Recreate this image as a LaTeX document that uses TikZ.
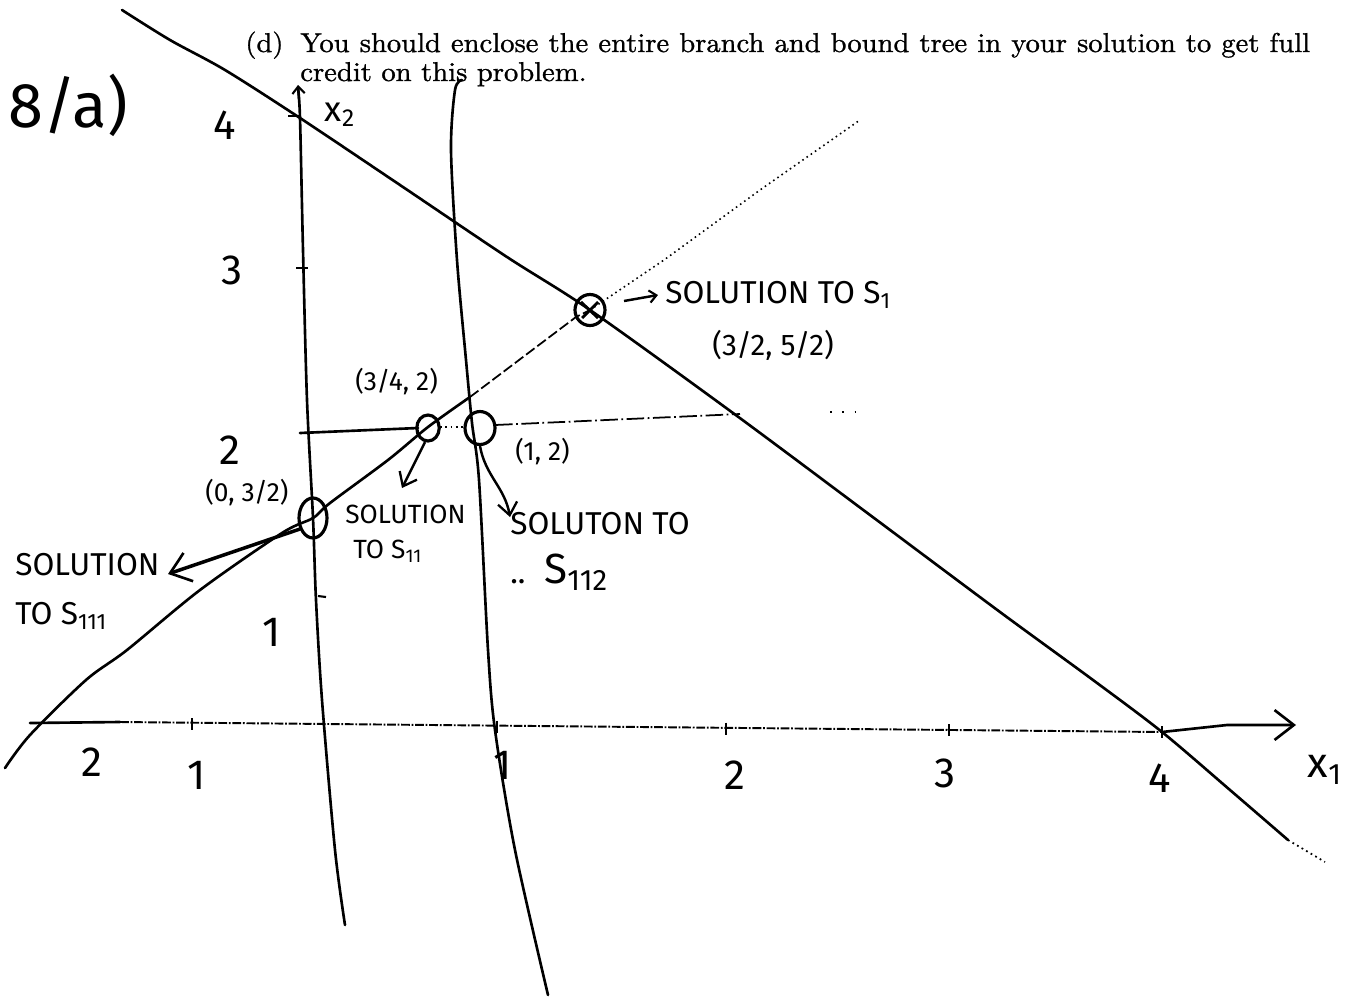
\documentclass[tikz,border=0pt]{standalone}
\usepackage{fontspec}
\newfontfamily\hand{Fira Sans}
\newfontfamily\printfont{lmroman10-regular}[Extension=.otf, FakeStretch=1.05, FakeBold=1]
\usetikzlibrary{arrows.meta,shapes.geometric}
\tikzset{
  stroke/.style={line width=1.5pt, line cap=round, line join=round},
  hw/.style={font=\hand\fontsize{15}{18}\selectfont, inner sep=0pt, anchor=west},
  sol/.style={font=\hand\fontsize{18}{20}\selectfont, inner sep=0pt, align=left, anchor=north west},
  num/.style={font=\hand\fontsize{24}{26}\selectfont, inner sep=0pt},
  bigbarb/.style={-{Straight Barb[length=11pt,width=17pt,line width=1.5pt]}},
  barb/.style={-{Straight Barb[length=7pt,width=11pt,line width=1.3pt]}},
  smallbarb/.style={-{Straight Barb[length=4pt,width=7pt,line width=1.2pt]}},
  ring/.style={draw, line width=1.8pt, ellipse, inner sep=0pt},
  printed/.style={inner sep=0pt, anchor=base west, font=\printfont\fontsize{15.5}{16.5}\selectfont},
}
\begin{document}
\begin{tikzpicture}[x=0.02cm,y=-0.02cm]
\useasboundingbox (0,0) rectangle (1355,1001);

% printed problem text
\node[printed] (dlab) at (245,52) {(d)};
\node[printed] (dline1) at (300,52)
  {\makebox[20.2cm][s]{You should enclose the entire branch and bound tree in your solution to get full}};
\node[printed] (dline2) at (300,81) {credit on this problem.};

% line A : decreasing constraint
\draw[stroke] plot[smooth, tension=0.5] coordinates {(122,10) (170,40) (225,70) (300,118) (400,185) (507,257) (590,310) (733,413) (870,515) (1000,612) (1093,680) (1162,732) (1230,790) (1288,840)};
\draw[line width=1pt, dotted] (1288,840) -- (1325,862);

% line B : increasing constraint
\draw[stroke] plot[smooth, tension=0.5] coordinates {(5,768) (30,735) (86,680) (127,650) (200,590) (282,533) (313,518) (330,503) (388,460) (428,427) (470,397)};
\draw[line width=1pt, dash pattern=on 6pt off 2pt] (470,397) -- (576,317) -- (590,310);
\draw[line width=0.9pt, dotted] (590,310) -- (664,260) -- (760,190) -- (860,120);

% x2 axis (left branching line)
\coordinate (x2top) at (298,85);
\draw[stroke] plot[smooth, tension=0.5] coordinates {(345,925) (335,850) (322,700) (316,600) (313,518) (307,400) (303,250) (300,118) (298,88)};
\draw[smallbarb, line width=1.3pt] (299,100) -- (x2top);
\draw[line width=1.2pt] (288,116) -- (300,116);
\draw[line width=1.2pt] (296,268) -- (308,268);
\draw[line width=1.2pt] (318,596) -- (326,597);

% right branching line (x1 = 1)
\draw[stroke] plot[smooth, tension=0.5] coordinates {(462,80) (455,90) (451,150) (457,260) (466,360) (472,423) (479,480) (488,650) (495,730) (515,850) (548,995)};

% x2 = 2 line
\draw[stroke] (300,433) -- (418,428);
\draw[line width=1pt, dotted] (440,427) -- (466,427);
\draw[line width=1pt, dash pattern=on 10pt off 2pt on 1pt off 2pt] (495,425) -- (740,414);
\draw[line width=1.2pt, dash pattern=on 1pt off 6pt] (830,412) -- (862,412);

% x1 axis
\coordinate (ax0) at (30,723);
\coordinate (ax4) at (1162,732);
\coordinate (axtip) at (1296,725);
\draw[stroke] (ax0) -- (120,722);
\draw[line width=1.1pt, dash pattern=on 5pt off 1pt on 1pt off 1pt] (120,722) -- (ax4);
\draw[stroke, bigbarb] (ax4) -- (1227,725) -- (axtip);
\foreach \x in {192,497,726,949,1162} {
  \pgfmathsetmacro{\yy}{723+9*(\x-30)/1130}
  \draw[line width=1pt] (\x,\yy-6) -- (\x,\yy+6);
}

% circled points
\node[ring, minimum width=0.45cm, minimum height=0.52cm] (p34) at (428,428) {};
\node[ring, minimum width=0.6cm, minimum height=0.66cm] (p12) at (480,428) {};
\node[ring, minimum width=0.56cm, minimum height=0.8cm] (p032) at (313,518) {};
\node[ring, minimum width=0.6cm, minimum height=0.62cm] (p3252) at (590,310) {};
\draw[line width=1.6pt] (581,302) -- (598,318) (598,302) -- (582,318);

% labels: axis numbers
\node[num, font=\hand\fontsize{36}{40}\selectfont] (title) at (68,105) {8/a)};
\node[num] (y4) at (225,125) {4};
\node[num] (y3) at (232,270) {3};
\node[num] (y2) at (230,450) {2};
\node[num] (y1) at (272,632) {1};
\node[num, font=\hand\fontsize{20}{22}\selectfont] (x2lab) at (340,115) {x\textsubscript{2}};
\node[num] (xm2) at (92,762) {2};
\node[num] (xm1) at (197,775) {1};
\node[num] (xp1) at (503,765) {1};
\node[num] (xp2) at (735,775) {2};
\node[num] (xp3) at (945,773) {3};
\node[num] (xp4) at (1160,778) {4};
\node[num] (x1lab) at (1325,770) {x\textsubscript{1}};

% solution annotations
\node[sol, anchor=west] (s1) at (665,295) {SOLUTION TO S\textsubscript{1}};
\draw[line width=1.4pt, smallbarb] (624,301) -- ([xshift=-4pt]s1.west);
\node[hw, font=\hand\fontsize{17}{19}\selectfont] (c3252) at (712,345) {(3/2, 5/2)};
\node[hw] (c34) at (355,382) {(3/4, 2)};
\node[hw] (c12) at (515,452) {(1, 2)};
\node[hw] (c032) at (205,493) {(0, 3/2)};

\node[sol, font=\hand\fontsize{15}{17}\selectfont] (s11) at (345,505) {SOLUTION\\[3pt]\hspace{0.3em}TO S\textsubscript{11}};
\draw[line width=1.4pt, barb] (425,442) -- (402,488);

\node[sol] (s112) at (510,512) {SOLUTON TO\\[8pt]..\hspace{0.6em}\fontsize{24}{26}\selectfont S\textsubscript{112}};
\draw[line width=1.4pt, barb] (p12.south) to[out=-80,in=100] (510,517);

\node[sol] (s111) at (15,553) {SOLUTION\\[8pt]TO S\textsubscript{111}};
\draw[line width=2pt, bigbarb] (300,529) -- (168,574);
\end{tikzpicture}
\end{document}
